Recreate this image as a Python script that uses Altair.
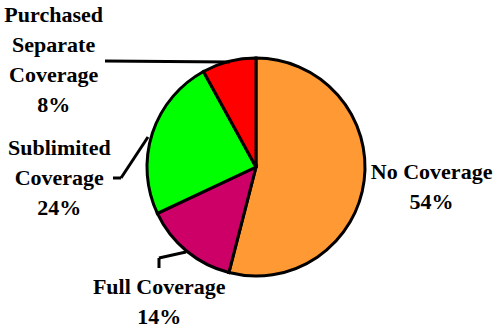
import altair as alt
import pandas as pd

categories = ["No Coverage", "Full Coverage", "Sublimited Coverage", "Purchased Separate Coverage"]
labels = ["No Coverage", "Full Coverage", "Sublimited\nCoverage", "Purchased\nSeparate\nCoverage"]
values = [54, 14, 24, 8]
colors = ["#FF9933", "#CC0066", "#00FF00", "#FF0000"]

df = pd.DataFrame({
    "category": categories,
    "label": labels,
    "value": values,
    "order": list(range(len(categories))),
})

FONT = "Liberation Serif, Nimbus Roman, FreeSerif, Tinos, DejaVu Serif"

pie = alt.Chart(df).mark_arc(outerRadius=109, stroke="black", strokeWidth=3).encode(
    theta=alt.Theta("value:Q", stack=True),
    color=alt.Color("category:N", scale=alt.Scale(domain=categories, range=colors), legend=None),
    order=alt.Order("order:Q"),
)

def label_layer(cat, radius, dx, dy):
    return (
        alt.Chart(df)
        .transform_window(cum="sum(value)", sort=[alt.SortField("order")], frame=[None, 0])
        .transform_joinaggregate(total="sum(value)")
        .transform_calculate(
            mid_rad="(datum.cum - datum.value / 2) / datum.total * 2 * PI",
            txt="datum.label + '\\n' + datum.value + '%'",
        )
        .transform_filter(alt.datum.category == cat)
        .mark_text(
            radius=radius, dx=dx, dy=dy, font=FONT, fontSize=22, fontWeight="bold",
            lineBreak="\n", lineHeight=30, align="center", baseline="middle", color="black",
        )
        .encode(theta=alt.Theta("mid_rad:Q", scale=None), text="txt:N")
    )

labels_layers = [
    label_layer("No Coverage", 176, 1, -17),
    label_layer("Full Coverage", 166, 9, -8),
    label_layer("Sublimited Coverage", 190, -16, 40),
    label_layer("Purchased Separate Coverage", 130, -170, -26),
]

OX, OY = 18, 5

def seg(x1, y1, x2, y2):
    return alt.Chart(df.head(1)).mark_rule(color="black", strokeWidth=3).encode(
        x=alt.value(x1 - OX), y=alt.value(y1 - OY), x2=alt.value(x2 - OX), y2=alt.value(y2 - OY)
    )

leaders = [
    seg(105, 61, 230, 62),
    seg(113, 178, 121, 178),
    seg(121, 178, 148, 137),
    seg(159, 268, 159, 258),
    seg(159, 258, 186, 252),
]

chart = alt.layer(pie, *leaders, *labels_layers).properties(
    width=476, height=324,
    autosize=alt.AutoSizeParams(type="none"),
    padding={"left": OX, "top": OY, "right": 0, "bottom": 0},
).configure_view(stroke=None)

chart.save("out.html", embed_options={"renderer": "svg", "actions": False})
